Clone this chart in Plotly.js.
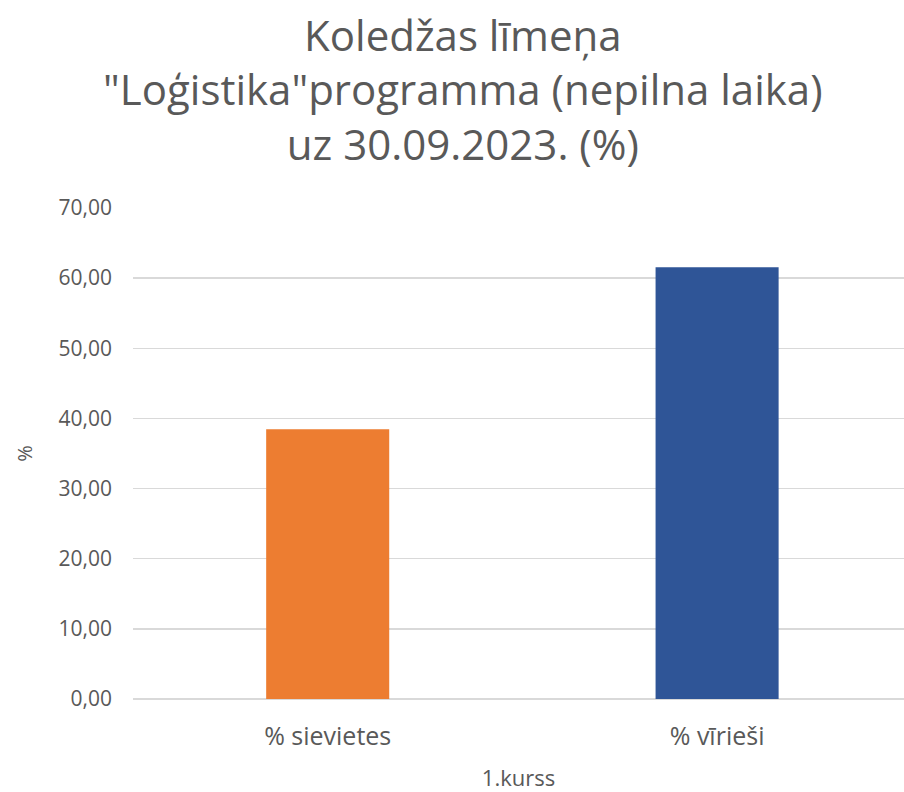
<!DOCTYPE html>
<html><head><meta charset="utf-8">
<script src="https://cdn.plot.ly/plotly-3.0.1.min.js"></script>
<style>body{margin:0;background:#fff}#c{width:904px;height:792px}</style>
</head><body><div id="c"></div>
<script>
const categories = ["% sievietes", "% vīrieši"];
const values = [38.46, 61.54];
const colors = ["#ED7D31", "#2F5597"];
const yTicks = [0, 10, 20, 30, 40, 50, 60, 70];

const trace = {type: "bar", x: categories, y: values, marker: {color: colors}, hoverinfo: "none"};
const layout = {
  width: 904, height: 792,
  margin: {l: 133, r: 0, t: 208, b: 93},
  paper_bgcolor: "#fff", plot_bgcolor: "#fff",
  separators: ", ",
  showlegend: false,
  bargap: 0.684,
  title: {text: "Koledžas līmeņa<br>\"Loģistika\"programma (nepilna laika)<br>uz 30.09.2023. (%)",
          font: {family: "Open Sans, sans-serif", size: 42, color: "#595959"},
          x: 0.512, xanchor: "center", y: 0.936, yanchor: "top"},
  xaxis: {range: [-0.5, 1.48], showgrid: false, zeroline: false, showline: false, ticks: "",
          ticklabelstandoff: 20,
          tickfont: {family: "Open Sans, sans-serif", size: 25, color: "#595959"},
          title: {text: "1.kurss", font: {family: "Open Sans, sans-serif", size: 22, color: "#595959"}, standoff: 22}},
  yaxis: {range: [0, 70], tickvals: yTicks, tickformat: ".2f", showgrid: true, gridcolor: "#d9d9d9", gridwidth: 1.5,
          zeroline: true, zerolinecolor: "#d9d9d9", zerolinewidth: 1.5, showline: false, ticks: "", ticklen: 0,
          ticklabelstandoff: 20,
          tickfont: {family: "Open Sans, sans-serif", size: 21, color: "#595959"},
          title: {text: "%", font: {family: "Open Sans, sans-serif", size: 20, color: "#595959"}, standoff: 20}}
};
Plotly.newPlot("c", [trace], layout, {displayModeBar: false, staticPlot: true});
</script></body></html>
